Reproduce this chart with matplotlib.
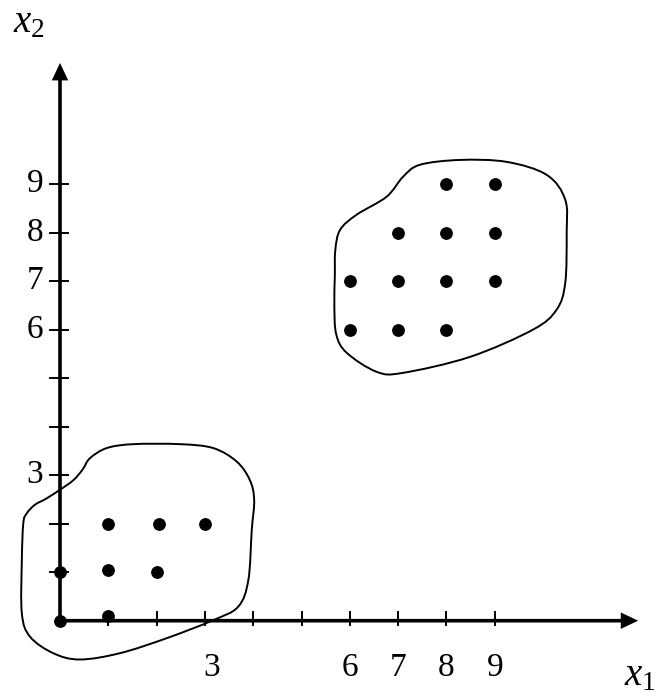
import numpy as np
import matplotlib
matplotlib.use("Agg")
import matplotlib.pyplot as plt
from matplotlib.path import Path
from matplotlib.patches import PathPatch, FancyArrow

# ------------------------------------------------------------
# Data
# ------------------------------------------------------------
low_x = [0, 1, 0, 1, 2, 1, 2.05, 3]
low_y = [0, 0.1, 1, 1.05, 1, 2, 2, 2]

high_x = [6, 7, 8, 6, 7, 8, 9, 7, 8, 9, 8, 9]
high_y = [6, 6, 6, 7, 7, 7, 7, 8, 8, 8, 9, 9]

tick_values = [1, 2, 3, 4, 5, 6, 7, 8, 9]
x_labels = [3, 6, 7, 8, 9]
y_labels = [3, 6, 7, 8, 9]

# hand-drawn outlines round the two groups
low_outline = [
    (0.0, 2.70), (0.28, 2.90), (0.47, 3.12), (0.62, 3.35), (0.97, 3.56),
    (1.52, 3.64), (2.48, 3.64), (3.17, 3.56), (3.66, 3.28), (3.93, 2.90),
    (4.02, 2.49), (3.97, 1.87), (3.90, 0.84), (3.69, 0.29), (3.17, 0.01),
    (2.21, -0.36), (1.24, -0.67), (0.41, -0.80), (-0.14, -0.67),
    (-0.62, -0.33), (-0.79, 0.15), (-0.79, 1.25), (-0.76, 2.01),
    (-0.69, 2.21), (-0.52, 2.39), (-0.28, 2.52),
]
high_outline = [
    (5.69, 7.10), (5.70, 7.64), (5.80, 8.06), (6.14, 8.37), (6.76, 8.74),
    (7.10, 9.15), (7.45, 9.40), (8.28, 9.50), (9.25, 9.46), (10.08, 9.19),
    (10.46, 8.68), (10.49, 7.99), (10.46, 6.96), (10.28, 6.41), (9.79, 6.00),
    (8.49, 5.44), (7.10, 5.11), (6.56, 5.13), (5.94, 5.52), (5.72, 5.90),
    (5.68, 6.50),
]


def closed_curve(points):
    # closed Catmull-Rom outline expressed as cubic Bezier segments
    pts = np.asarray(points, dtype=float)
    n = len(pts)
    verts = [pts[0]]
    codes = [Path.MOVETO]
    for i in range(n):
        p0, p1 = pts[i - 1], pts[i]
        p2, p3 = pts[(i + 1) % n], pts[(i + 2) % n]
        verts += [p1 + (p2 - p0) / 6.0, p2 - (p3 - p1) / 6.0, p2]
        codes += [Path.CURVE4] * 3
    return Path(verts, codes)


plt.rcParams["mathtext.fontset"] = "custom"
plt.rcParams["mathtext.rm"] = "Liberation Serif"
plt.rcParams["mathtext.it"] = "Liberation Serif:italic"

fig = plt.figure(figsize=(6.58, 7.0), dpi=100)
ax = fig.add_axes([0, 0, 1, 1])
ax.set_xlim(-60 / 48.3, (658 - 60) / 48.3)
ax.set_ylim(-(700 - 620.7) / 48.5, 620.7 / 48.5)
ax.axis("off")

# axes with arrow heads
ax.add_patch(FancyArrow(-0.03, 0, 12.0, 0, width=0.075, head_width=0.34,
                        head_length=0.36, length_includes_head=True,
                        color="black", lw=0))
ax.add_patch(FancyArrow(0, -0.03, 0, 11.53, width=0.075, head_width=0.34,
                        head_length=0.36, length_includes_head=True,
                        color="black", lw=0))

# tick marks
for t in tick_values:
    ax.plot([t, t], [-0.09, 0.18], color="black", lw=1.4)
    ax.plot([-0.2, 0.17], [t, t], color="black", lw=1.4)

font = dict(family="Liberation Serif", fontsize=24, color="black")
for v in x_labels:
    shift = 0.14 if v == 3 else 0.0
    ax.text(v + shift, -0.98, str(v), ha="center", va="center", **font)
for v in y_labels:
    ax.text(-0.35, v, str(v), ha="right", va="center", **font)

ax.text(11.68, -1.33, r"$x_1$", ha="left", va="baseline", fontsize=28)
ax.text(-0.98, 12.14, r"$x_2$", ha="left", va="baseline", fontsize=28)

# outlines
for outline in (low_outline, high_outline):
    ax.add_patch(PathPatch(closed_curve(outline), facecolor="none",
                           edgecolor="black", lw=1.4))

# points
ax.scatter(low_x, low_y, s=85, color="black", zorder=5, linewidths=0)
ax.scatter(high_x, high_y, s=85, color="black", zorder=5, linewidths=0)

fig.savefig("out.png", dpi=100)
